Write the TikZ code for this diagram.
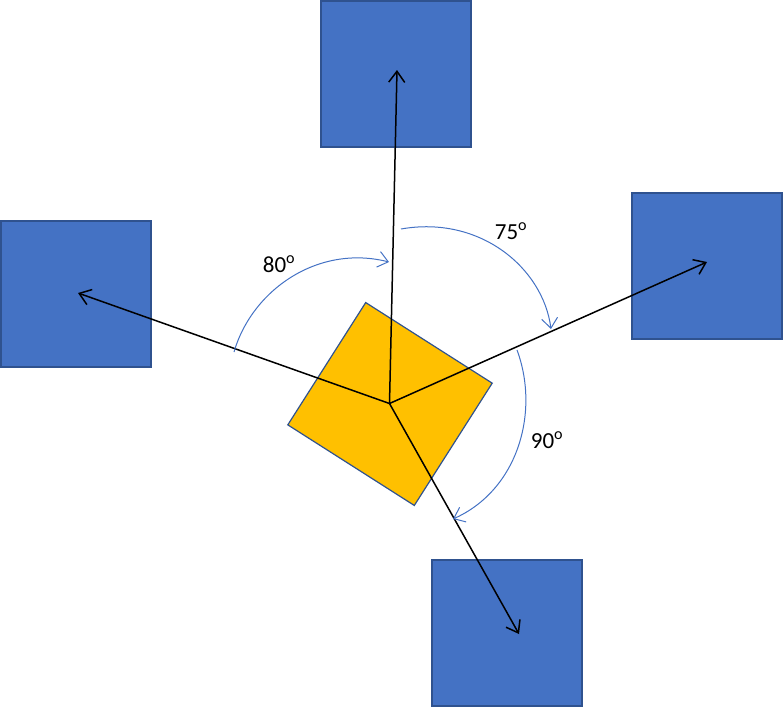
\documentclass[tikz,border=0pt]{standalone}
\usepackage{fontspec}
\setmainfont{Carlito}
\usepackage{tikz}
\usetikzlibrary{arrows.meta}
\definecolor{kblue}{HTML}{4472C4}
\definecolor{kedge}{HTML}{2F528F}
\definecolor{kyellow}{HTML}{FFC000}

\tikzset{
  target/.style={draw=kedge, fill=kblue, line width=1.2pt, minimum width=150pt, minimum height=146pt, inner sep=0pt},
  body/.style={draw=kedge, fill=kyellow, line width=1.2pt, minimum width=150pt, minimum height=145pt, inner sep=0pt, rotate=-32.5},
  ray/.style={black, line width=1.5pt, -{Straight Barb[length=11pt,width=16pt]}},
  turn/.style={kblue, line width=1pt, -{Straight Barb[length=10pt,width=16pt]}},
  anglabel/.style={font=\fontsize{23}{27}\selectfont, text=black}
}

\begin{document}
\begin{tikzpicture}[x=1pt, y=-1pt]
\useasboundingbox (0,0) rectangle (783,707);
% targets round the body
\node[target] (top) at (396,74) {};
\node[target] (left) at (76,294) {};
\node[target] (right) at (707,266) {};
\node[target] (bottom) at (507,633) {};
% the turning body
\node[body] (hub) at (390,404) {};
\coordinate (o) at (389.5,403.5);
\coordinate (tipT) at (397,70);
\coordinate (tipL) at (78,293);
\coordinate (tipR) at (707,262);
\coordinate (tipB) at (519,634);
\draw[ray] (o) -- (tipT);
\draw[ray] (o) -- (tipL);
\draw[ray] (o) -- (tipR);
\draw[ray] (o) -- (tipB);
% angles
\coordinate (a1) at (234,352);
\coordinate (b1) at (389,262);
\coordinate (a2) at (401,229);
\coordinate (b2) at (551,329);
\coordinate (a3) at (517,350);
\coordinate (b3) at (453,519);
\draw[turn] (a1) .. controls (252,290) and (318,244) .. (b1);
\draw[turn] (a2) .. controls (480,215) and (543,268) .. (b2);
\draw[turn] (a3) .. controls (540,412) and (518,490) .. (b3);
\node[anglabel] (l80) at (279,264) {80\textsuperscript{o}};
\node[anglabel] (l75) at (511,231) {75\textsuperscript{o}};
\node[anglabel] (l90) at (547,440) {90\textsuperscript{o}};
\end{tikzpicture}
\end{document}
